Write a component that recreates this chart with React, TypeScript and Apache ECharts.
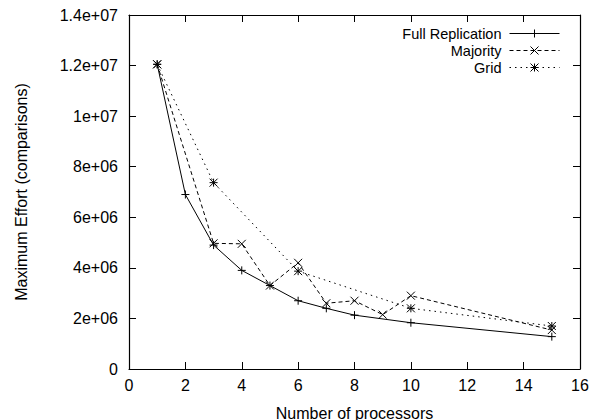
import React, { useEffect, useRef } from "react";
import * as echarts from "echarts";

const processors = [1, 2, 3, 4, 5, 6, 7, 8, 10, 15];
const fullReplication = [12.05e6, 6.9e6, 4.9e6, 3.9e6, 3.3e6, 2.7e6, 2.4e6, 2.13e6, 1.83e6, 1.28e6];

const majorityProcessors = [1, 3, 4, 5, 6, 7, 8, 9, 10, 15];
const majority = [12.05e6, 4.97e6, 4.95e6, 3.3e6, 4.2e6, 2.6e6, 2.7e6, 2.15e6, 2.9e6, 1.54e6];

const gridProcessors = [1, 3, 6, 10, 15];
const grid = [12.05e6, 7.37e6, 3.87e6, 2.4e6, 1.7e6];

const yTickLabels = ["0", "2e+06", "4e+06", "6e+06", "8e+06", "1e+07", "1.2e+07", "1.4e+07"];
const xTickLabels = ["0", "2", "4", "6", "8", "10", "12", "14", "16"];

const FONT = "'Liberation Sans', Arial, Helvetica, sans-serif";
const FS = 16;

const PLUS = "path://M5,0L5,10M0,5L10,5";
const CROSS = "path://M0,0L10,10M10,0L0,10";
const STAR = "path://M5,0L5,10M0,5L10,5M0,0L10,10M10,0L0,10";

export default function App() {
  const ref = useRef<HTMLDivElement>(null);
  useEffect(() => {
    if (!ref.current) return;
    const chart = echarts.init(ref.current, undefined, { renderer: "svg" });
    const axisCommon = {
      axisLine: { show: true, onZero: false, lineStyle: { color: "#000", width: 1.2 } },
      axisTick: { show: true, inside: true, length: 7, lineStyle: { color: "#000", width: 1 } },
      splitLine: { show: false },
    };
    const makeSeries = (name: string, xs: number[], ys: number[], symbol: string, type: any) => ({
      name,
      type: "line",
      data: xs.map((x, i) => [x, ys[i]]),
      symbol,
      symbolSize: 8,
      showSymbol: true,
      lineStyle: { color: "#000", width: 1, type },
      itemStyle: { color: "#000", borderColor: "#000", borderWidth: 1 },
      emphasis: { disabled: true },
    });
    chart.setOption({
      animation: false,
      textStyle: { fontFamily: FONT },
      grid: {
        left: 129,
        right: 19,
        top: 15,
        bottom: 51,
        containLabel: false,
        outerBoundsMode: "none",
      },
      legend: {
        orient: "vertical",
        align: "right",
        right: 39,
        top: 26,
        padding: 0,
        itemGap: 2,
        itemWidth: 50,
        itemHeight: 10,
        lineStyle: { width: 1 },
        itemStyle: { borderWidth: 1 },
        textStyle: { fontFamily: FONT, fontSize: 14.5, color: "#000", lineHeight: 14, padding: [0, 3, 0, 0] },
        data: ["Full Replication", "Majority", "Grid"],
      },
      xAxis: [
        {
          type: "value",
          min: 0,
          max: 16,
          interval: 2,
          position: "bottom",
          ...axisCommon,
          axisLabel: {
            color: "#000",
            fontSize: FS,
            fontFamily: FONT,
            margin: 8,
            formatter: (v: number) => xTickLabels[Math.round(v / 2)] ?? String(v),
          },
          name: "Number of processors",
          nameLocation: "middle",
          nameGap: 36,
          nameTextStyle: { color: "#000", fontSize: FS, fontFamily: FONT },
        },
        {
          type: "value",
          min: 0,
          max: 16,
          interval: 2,
          position: "top",
          ...axisCommon,
          axisLabel: { show: false },
        },
      ],
      yAxis: [
        {
          type: "value",
          min: 0,
          max: 1.4e7,
          interval: 2e6,
          position: "left",
          ...axisCommon,
          axisLabel: {
            color: "#000",
            fontSize: FS,
            fontFamily: FONT,
            margin: 11,
            formatter: (v: number) => yTickLabels[Math.round(v / 2e6)] ?? String(v),
          },
          name: "Maximum Effort (comparisons)",
          nameLocation: "middle",
          nameGap: 100,
          nameTextStyle: { color: "#000", fontSize: FS, fontFamily: FONT },
        },
        {
          type: "value",
          min: 0,
          max: 1.4e7,
          interval: 2e6,
          position: "right",
          ...axisCommon,
          axisLabel: { show: false },
        },
      ],
      series: [
        makeSeries("Full Replication", processors, fullReplication, PLUS, "solid"),
        makeSeries("Majority", majorityProcessors, majority, CROSS, [4, 3]),
        makeSeries("Grid", gridProcessors, grid, STAR, [1.5, 4]),
      ],
    });
    return () => chart.dispose();
  }, []);
  return (
    <div
      ref={ref}
      style={{ position: "fixed", left: 0, top: 0, width: 599, height: 420, background: "#fff" }}
    />
  );
}
